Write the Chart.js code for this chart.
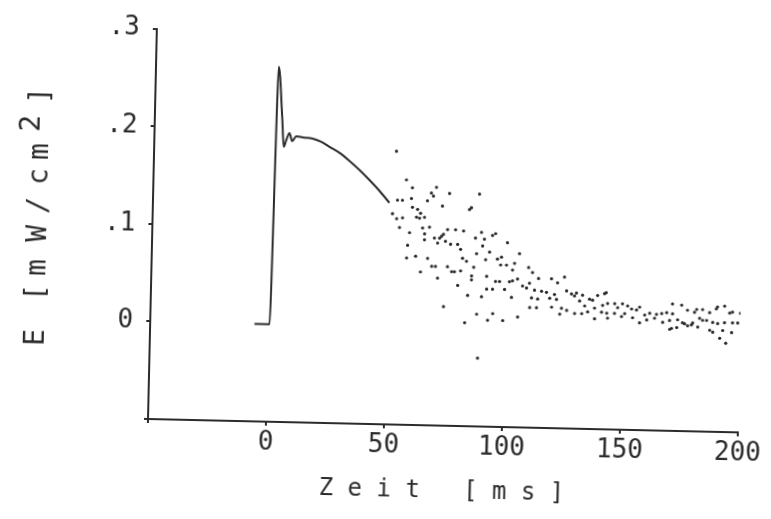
<!DOCTYPE html>
<html>
<head>
<meta charset="utf-8">
<script src="https://cdn.jsdelivr.net/npm/chart.js@4.4.0/dist/chart.umd.min.js"></script>
<style>
  body { margin: 0; background: #fff; overflow: hidden; }
  /* the scanned plot is slightly skewed, so the whole canvas is turned a little */
  #plot { transform: rotate(1.3deg); transform-origin: 148px 419px; }
</style>
</head>
<body>
<canvas id="plot" width="771" height="519"></canvas>
<script>
// measured curve (ms, mW/cm2)
const lineTime = [-5.8, 0.6, 2.0, 4.0, 4.9, 5.9, 7.2, 8.4, 10.1, 12.9, 17.1, 20.7, 24.3, 28.6, 32.9, 37.2, 41.5, 45.9, 50.2];
const lineE = [0, 0, 0.264, 0.211, 0.182, 0.189, 0.196, 0.188, 0.193, 0.192, 0.191, 0.188, 0.183, 0.177, 0.169, 0.160, 0.150, 0.139, 0.127];

// scattered single values after ~50 ms
const dotTime = [
  52.7, 57.2, 53.6, 55.7, 59.5, 59.8, 70.0, 67.9, 68.8, 66.3, 75.6, 88.3, 72.7, 51.6, 53.4, 55.9,
  60.0, 62.2, 63.5, 61.8, 63.1, 65.2, 84.2, 85.0, 54.7, 59.0, 64.5, 67.4, 65.4, 65.4, 69.6, 71.8,
  72.6, 73.4, 75.1, 78.5, 81.9, 71.0, 74.3, 76.5, 79.5, 87.0, 89.5, 58.3, 58.0, 61.8, 66.9, 68.7,
  70.3, 64.0, 75.4, 77.2, 78.4, 80.8, 81.7, 83.4, 81.0, 87.6, 86.5, 85.7, 85.7, 71.3, 79.9, 84.2,
  90.1, 74.1, 88.2, 83.2, 89.0, 90.8, 90.1, 94.2, 95.5, 100.6, 105.8, 93.1, 91.5, 96.5, 98.2, 97.9,
  100.4, 103.8, 103.0, 109.8, 111.5, 92.1, 95.9, 97.6, 101.8, 103.1, 105.2, 107.4, 109.1, 110.3, 114.1, 119.6,
  122.2, 125.1, 92.2, 94.7, 99.8, 112.5, 115.5, 117.6, 102.8, 111.3, 113.9, 119.0, 121.0, 121.9, 126.1, 128.2,
  129.5, 110.6, 113.5, 119.9, 124.1, 126.3, 129.7, 123.4, 95.0, 92.9, 99.3, 105.6, 130.3, 132.9, 131.7, 133.9,
  135.9, 139.3, 142.2, 138.1, 141.5, 143.6, 132.7, 135.2, 141.1, 143.3, 146.6, 147.9, 149.9, 152.1, 146.6, 149.6,
  150.9, 153.8, 155.9, 157.2, 138.2, 143.7, 154.3, 159.4, 161.5, 164.4, 166.6, 168.7, 163.6, 167.1, 170.0, 157.3,
  160.3, 170.9, 171.1, 175.0, 171.2, 173.4, 177.5, 180.5, 181.4, 183.9, 186.9, 190.2, 193.2, 195.4, 196.6, 200.0,
  175.5, 177.7, 179.8, 182.7, 184.0, 185.7, 188.3, 190.4, 193.3, 196.7, 198.9, 173.1, 182.0, 187.1, 188.4, 192.6,
  196.4, 191.4, 194.0, 137.2, 142.9, 179.3, 189.7, 176.4, 170.1
];
const dotE = [
  0.180, 0.151, 0.130, 0.130, 0.132, 0.143, 0.144, 0.138, 0.135, 0.130, 0.138, 0.138, 0.125, 0.116, 0.111, 0.112,
  0.123, 0.121, 0.117, 0.113, 0.112, 0.113, 0.122, 0.124, 0.102, 0.097, 0.102, 0.103, 0.096, 0.090, 0.092, 0.092,
  0.094, 0.096, 0.101, 0.101, 0.100, 0.087, 0.089, 0.086, 0.086, 0.093, 0.099, 0.084, 0.071, 0.073, 0.071, 0.063,
  0.063, 0.057, 0.063, 0.058, 0.058, 0.081, 0.072, 0.069, 0.059, 0.077, 0.063, 0.054, 0.050, 0.051, 0.044, 0.034,
  0.033, 0.022, 0.015, 0.006, -0.030, 0.092, 0.085, 0.096, 0.098, 0.089, 0.078, 0.079, 0.071, 0.072, 0.074, 0.066,
  0.066, 0.068, 0.061, 0.064, 0.059, 0.054, 0.049, 0.049, 0.049, 0.050, 0.052, 0.045, 0.043, 0.048, 0.053, 0.053,
  0.049, 0.055, 0.041, 0.041, 0.041, 0.041, 0.040, 0.039, 0.033, 0.033, 0.032, 0.033, 0.037, 0.032, 0.041, 0.038,
  0.036, 0.023, 0.023, 0.024, 0.023, 0.021, 0.018, 0.017, 0.016, 0.009, 0.009, 0.013, 0.039, 0.037, 0.031, 0.026,
  0.033, 0.037, 0.039, 0.024, 0.027, 0.029, 0.018, 0.020, 0.020, 0.019, 0.029, 0.025, 0.029, 0.027, 0.019, 0.016,
  0.019, 0.024, 0.023, 0.026, 0.013, 0.014, 0.015, 0.018, 0.020, 0.019, 0.020, 0.021, 0.015, 0.011, 0.013, 0.010,
  0.013, 0.005, 0.030, 0.029, 0.020, 0.014, 0.024, 0.022, 0.025, 0.025, 0.022, 0.028, 0.029, 0.022, 0.023, 0.022,
  0.011, 0.008, 0.011, 0.016, 0.014, 0.014, 0.012, 0.011, 0.012, 0.012, 0.012, 0.006, 0.007, 0.004, 0.002, 0.004,
  0.002, -0.004, -0.009, 0.032, 0.040, 0.009, 0.026, 0.010, 0.004
];

const xTicks = [0, 50, 100, 150, 200];
const yTickLabels = { '0': '0', '1': '.1', '2': '.2', '3': '.3' };
const xTitle = 'Z e i t   [ m s ]';
const yTitleGlyphs = ['E', '[', 'm', 'W', '/', 'c', 'm', '2', ']'];
const yTitleOffsets = [-121, -76, -51, -17, 11, 40, 65, 93, 121];

const ink = '#2b2b2b';
const mono = 'DejaVu Sans Mono';

const linePoints = lineTime.map((t, i) => ({ x: t, y: lineE[i] }));
const dotPoints = dotTime.map((t, i) => ({ x: t, y: dotE[i] }));

// rotated y-axis title, with the raised "2"
const yTitlePlugin = {
    id: 'yTitle',
    afterDraw(chart) {
        const ctx = chart.ctx;
        ctx.save();
        ctx.translate(35, 219);
        ctx.rotate(-Math.PI / 2);
        ctx.font = '28px "' + mono + '"';
        ctx.fillStyle = ink;
        ctx.textAlign = 'center';
        ctx.textBaseline = 'middle';
        yTitleGlyphs.forEach(function(g, i) {
            const lift = g === '2' ? -9 : 0;
            ctx.fillText(g, yTitleOffsets[i], lift);
        });
        ctx.restore();
    }
};

const ctx = document.getElementById('plot').getContext('2d');
new Chart(ctx, {
    type: 'scatter',
    data: {
        datasets: [
            {
                data: linePoints,
                showLine: true,
                borderColor: ink,
                borderWidth: 2,
                pointRadius: 0,
                cubicInterpolationMode: 'monotone'
            },
            {
                data: dotPoints,
                showLine: false,
                pointRadius: 1.6,
                pointBorderWidth: 0,
                pointBackgroundColor: ink
            }
        ]
    },
    options: {
        responsive: false,
        animation: false,
        layout: { padding: { top: 26, right: 33, left: 0, bottom: 0 } },
        plugins: {
            legend: { display: false },
            tooltip: { enabled: false }
        },
        scales: {
            x: {
                type: 'linear',
                min: -50,
                max: 200,
                afterFit: function(scale) { scale.height = 100; },
                ticks: {
                    stepSize: 50,
                    maxRotation: 0,
                    padding: 2,
                    color: ink,
                    font: { family: mono, size: 26 },
                    callback: function(v) { return xTicks.includes(v) ? String(v) : ''; }
                },
                grid: { drawOnChartArea: false, tickLength: 4, color: ink, lineWidth: 2 },
                border: { color: ink, width: 2 },
                title: {
                    display: true,
                    text: xTitle,
                    color: ink,
                    font: { family: mono, size: 24 },
                    padding: { top: 0, bottom: 20 }
                }
            },
            y: {
                min: -0.1,
                max: 0.3,
                afterFit: function(scale) { scale.width = 148; },
                ticks: {
                    stepSize: 0.1,
                    padding: 13,
                    color: ink,
                    font: { family: mono, size: 26 },
                    callback: function(v) {
                        const k = String(Math.round(v * 10));
                        return yTickLabels[k] || '';
                    }
                },
                grid: { drawOnChartArea: false, tickLength: 4, color: ink, lineWidth: 2 },
                border: { color: ink, width: 2 }
            }
        }
    },
    plugins: [yTitlePlugin]
});
</script>
</body>
</html>
